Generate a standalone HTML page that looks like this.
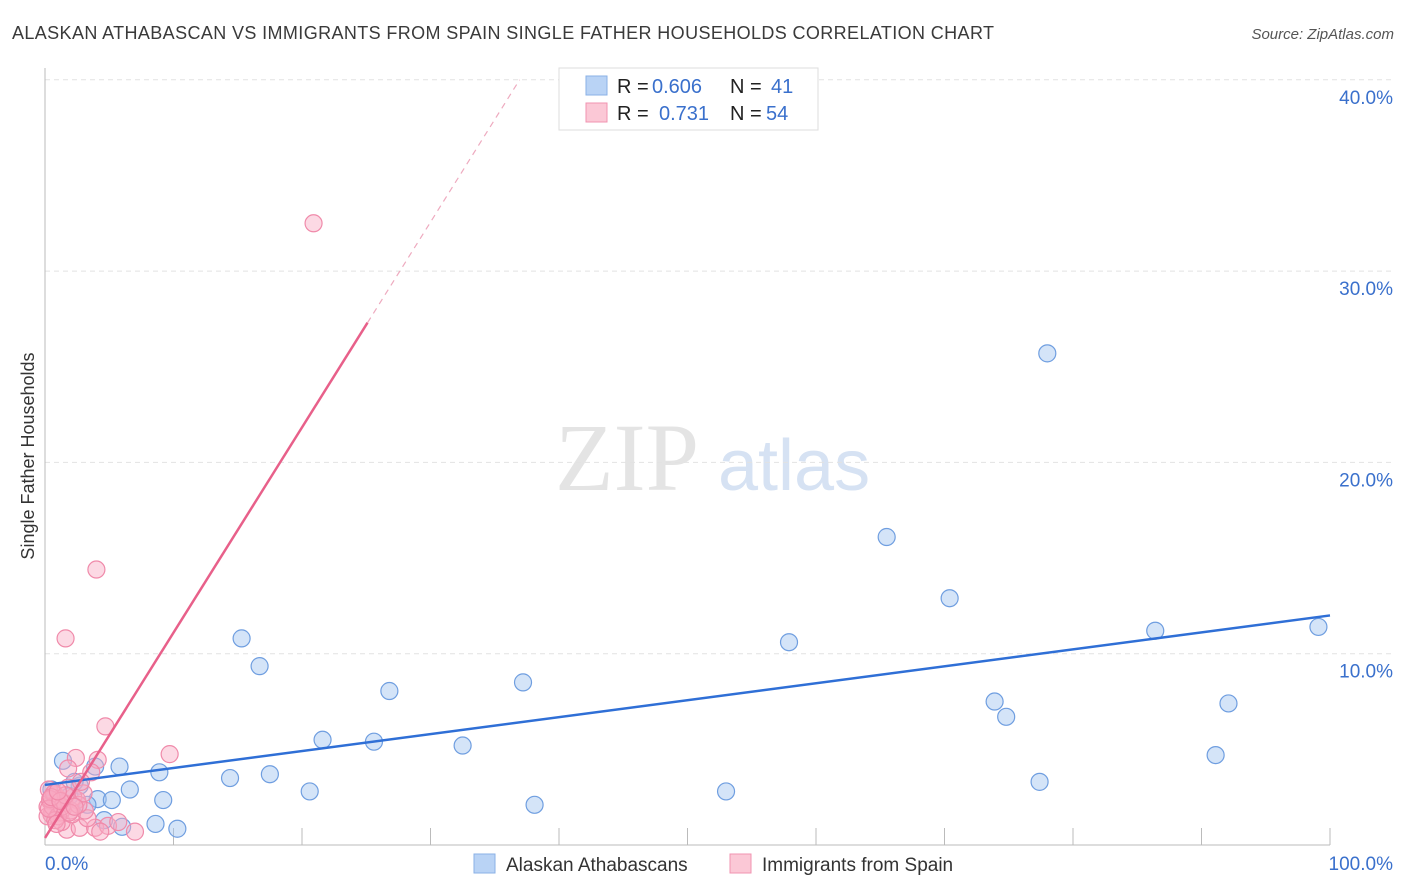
<!DOCTYPE html>
<html><head><meta charset="utf-8"><style>
body{margin:0;background:#fff;font-family:"Liberation Sans",sans-serif;}
svg{display:block}
</style></head><body>
<svg id="chart" width="1406" height="892">
<text x="12" y="39" font-size="18" fill="#3a3a3a" textLength="982" lengthAdjust="spacing">ALASKAN ATHABASCAN VS IMMIGRANTS FROM SPAIN SINGLE FATHER HOUSEHOLDS CORRELATION CHART</text>
<text x="1394" y="39" font-size="15" fill="#555" font-style="italic" text-anchor="end">Source: ZipAtlas.com</text>
<text x="555" y="490" font-size="96" fill="#e4e4e4" font-family="Liberation Serif,serif">ZIP</text>
<text x="718" y="490" font-size="72" fill="#d6e2f3">atlas</text>
<text transform="translate(34,456) rotate(-90)" font-size="18" fill="#333" text-anchor="middle">Single Father Households</text>
<g id="grid"></g><g id="axes"></g><g id="pts"></g><g id="lines"></g>
<g>
<rect x="559" y="68" width="259" height="62" fill="#fff" stroke="#ddd"/>
<rect x="586" y="76" width="21" height="19" fill="#b9d3f5" stroke="#8ab0e6"/>
<rect x="586" y="103" width="21" height="19" fill="#fbc8d6" stroke="#f093b0"/>
<text x="617" y="93" font-size="20" fill="#222">R =</text>
<text x="652" y="93" font-size="20" fill="#3a70cc">0.606</text>
<text x="730" y="93" font-size="20" fill="#222">N =</text>
<text x="771" y="93" font-size="20" fill="#3a70cc">41</text>
<text x="617" y="120" font-size="20" fill="#222">R =</text>
<text x="659" y="120" font-size="20" fill="#3a70cc">0.731</text>
<text x="730" y="120" font-size="20" fill="#222">N =</text>
<text x="766" y="120" font-size="20" fill="#3a70cc">54</text>
</g>
<g>
<rect x="474" y="854" width="21" height="19" fill="#b9d3f5" stroke="#8ab0e6"/>
<text x="506" y="871" font-size="19" fill="#333">Alaskan Athabascans</text>
<rect x="730" y="854" width="21" height="19" fill="#fbc8d6" stroke="#f093b0"/>
<text x="762" y="871" font-size="19" fill="#333">Immigrants from Spain</text>
</g>
</svg>
<script>
const blueX=[1.4,2.7,2.3,3.9,5.8,4.1,5.2,3.3,6.6,4.6,6.0,8.9,9.2,8.6,10.3,14.4,15.3,16.7,17.5,20.6,21.6,25.6,26.8,32.5,37.2,38.1,53.0,57.9,65.5,70.4,73.9,74.8,77.4,78.0,86.4,91.1,92.1,99.1,0.5,0.8,1.9];
const blueY=[4.4,3.1,3.3,4.1,4.1,2.4,2.35,2.1,2.9,1.3,0.95,3.8,2.35,1.1,0.85,3.5,10.8,9.35,3.7,2.8,5.5,5.4,8.05,5.2,8.5,2.1,2.8,10.6,16.1,12.9,7.5,6.7,3.3,25.7,11.2,4.7,7.4,11.4,2.9,2.35,2.55];
const pinkX=[20.9,4.0,1.6,4.7,9.7,4.1,2.4,1.8,1.7,2.7,3.9,4.9,5.7,7.0,4.3,1.3,3.3,2.1,3.1,2.5,0.2,0.4,0.6,0.8,1.0,1.2,0.3,0.5,0.9,1.1,1.4,0.7,0.2,0.6,1.5,2.0,2.2,1.8,0.4,1.0,1.3,0.8,2.6,3.0,1.6,0.3,0.9,1.9,2.3,0.5,1.2,3.6,2.8,1.0];
const pinkY=[32.5,14.4,10.8,6.2,4.75,4.45,4.55,4.0,0.8,0.9,0.9,1.0,1.2,0.7,0.7,1.2,1.4,1.6,1.8,2.35,2.0,2.3,1.8,2.6,2.1,1.7,2.9,1.6,2.2,2.4,1.9,2.7,1.5,2.0,2.2,1.8,2.5,3.0,2.4,1.5,2.0,1.3,2.1,2.7,2.6,1.9,1.1,1.7,2.0,2.5,2.3,3.8,3.3,2.8];
const blueTrend=[3.14,12.0];
const pinkTrend=[0.37,1.073];
const yTicks=[10,20,30,40];
const yTickLabels=["10.0%","20.0%","30.0%","40.0%"];
const xTickVals=[0,10,20,30,40,50,60,70,80,90,100];
const X=v=>45+v*12.85, Y=v=>845-v*19.13;
const NS="http://www.w3.org/2000/svg";
function mk(p,t,a){const e=document.createElementNS(NS,t);for(const k in a)e.setAttribute(k,a[k]);document.getElementById(p).appendChild(e);return e;}
yTicks.forEach((v,i)=>{
 const l=mk('grid','line',{x1:45,x2:1394,y1:Y(v),y2:Y(v),stroke:'#e2e2e2','stroke-dasharray':'5,4'});
 
 
 const t=mk('grid','text',{x:1393,y:Y(v)+24,'font-size':19,fill:'#3a70cc','text-anchor':'end'});
 t.textContent=yTickLabels[i];
 
 
});
const ax=mk('axes','line',{x1:45,x2:45,y1:68,y2:845,stroke:'#bbb'});


const bx=mk('axes','line',{x1:45,x2:1330,y1:845,y2:845,stroke:'#bbb'});


xTickVals.forEach(v=>{const t=mk('axes','line',{x1:X(v),x2:X(v),y1:828,y2:845,stroke:'#bbb'});
 
 });
const l0=mk('axes','text',{x:45,y:870,'font-size':19,fill:'#3a70cc'});l0.textContent='0.0%';


const l1=mk('axes','text',{x:1393,y:870,'font-size':19,fill:'#3a70cc','text-anchor':'end'});l1.textContent='100.0%';


blueX.forEach((v,i)=>{const c=mk('pts','circle',{cx:X(v),cy:Y(blueY[i]),r:8.5,fill:'rgba(160,195,240,0.45)',stroke:'#6f9ee0','stroke-width':1.2});
 
 });
pinkX.forEach((v,i)=>{const c=mk('pts','circle',{cx:X(v),cy:Y(pinkY[i]),r:8.5,fill:'rgba(248,170,195,0.45)',stroke:'#f08aaa','stroke-width':1.2});
 
 });
const bl=mk('lines','line',{x1:X(0),y1:Y(blueTrend[0]),x2:X(100),y2:Y(blueTrend[1]),stroke:'#2f6fd6','stroke-width':2.5});


const pe=25.1, pd=(40-pinkTrend[0])/pinkTrend[1];
const pl=mk('lines','line',{x1:X(0),y1:Y(pinkTrend[0]),x2:X(pe),y2:Y(pinkTrend[0]+pinkTrend[1]*pe),stroke:'#e8608a','stroke-width':2.5});


const pdl=mk('lines','line',{x1:X(pe),y1:Y(pinkTrend[0]+pinkTrend[1]*pe),x2:X(pd),y2:Y(40),stroke:'#eeaabf','stroke-width':1.2,'stroke-dasharray':'6,5'});


</script>
</body></html>
